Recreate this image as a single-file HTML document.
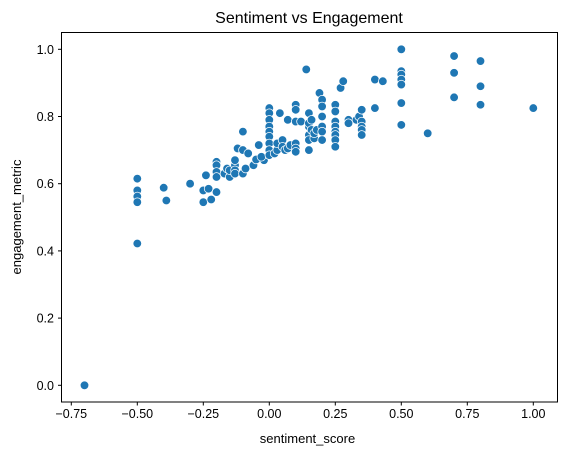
<!DOCTYPE html>
<html><head><meta charset="utf-8"><style>
body{margin:0;background:#fff;width:567px;height:455px;overflow:hidden}
svg{font-family:"Liberation Sans","DejaVu Sans",sans-serif}
</style></head><body>
<svg id="chart" width="567" height="455">
<text x="309" y="23" font-size="16" text-anchor="middle" fill="#000">Sentiment vs Engagement</text>
<text x="307.5" y="443" font-size="13" text-anchor="middle">sentiment_score</text>
<text x="0" y="0" font-size="13" text-anchor="middle" transform="translate(21,217) rotate(-90)">engagement_metric</text>
<g id="ticks"></g>
<g id="points"></g>
<rect x="61.5" y="32.5" width="496" height="369.5" fill="none" stroke="#000" stroke-width="1"/>
</svg>
<script>
const xTicks=[-0.75,-0.5,-0.25,0,0.25,0.5,0.75,1.0];
const xTickLabels=["−0.75","−0.50","−0.25","0.00","0.25","0.50","0.75","1.00"];
const yTicks=[0,0.2,0.4,0.6,0.8,1.0];
const yTickLabels=["0.0","0.2","0.4","0.6","0.8","1.0"];
const sentiment=[-0.7,-0.5,-0.5,-0.5,-0.5,-0.5,-0.4,-0.39,-0.3,-0.25,-0.25,-0.24,-0.23,-0.22,
-0.2,-0.2,-0.2,-0.2,-0.2,-0.17,-0.16,-0.15,-0.15,-0.13,-0.13,-0.13,-0.13,-0.13,
-0.12,-0.1,-0.1,-0.1,-0.09,-0.08,-0.06,-0.05,-0.04,-0.02,-0.03,
0,0,0,0,0,0,0,0,0,
0.02,0.03,0.03,0.04,0.05,0.05,0.06,0.07,0.07,0.08,
0.1,0.1,0.1,0.1,0.1,0.1,0.12,
0.14,0.15,0.15,0.15,0.15,0.15,0.15,0.16,0.16,0.17,0.17,0.18,
0.19,0.2,0.2,0.2,0.2,0.2,0.2,
0.25,0.25,0.25,0.25,0.25,0.25,0.25,0.25,
0.27,0.28,0.3,0.3,0.33,0.34,0.35,0.35,0.35,0.35,0.35,
0.4,0.4,0.43,0.5,0.5,0.5,0.5,0.5,0.5,0.5,
0.6,0.7,0.7,0.7,0.8,0.8,0.8,1.0];
const engagement=[0.0,0.615,0.58,0.562,0.545,0.422,0.588,0.55,0.60,0.58,0.545,0.625,0.585,0.553,
0.665,0.655,0.635,0.62,0.575,0.63,0.645,0.62,0.64,0.665,0.655,0.64,0.63,0.67,
0.705,0.70,0.755,0.63,0.645,0.69,0.655,0.672,0.715,0.67,0.68,
0.825,0.81,0.79,0.77,0.755,0.74,0.72,0.70,0.685,
0.69,0.70,0.72,0.81,0.73,0.71,0.70,0.705,0.79,0.715,
0.835,0.82,0.785,0.72,0.705,0.695,0.785,
0.94,0.81,0.77,0.745,0.73,0.70,0.78,0.79,0.76,0.735,0.75,0.76,
0.87,0.85,0.83,0.80,0.77,0.755,0.73,
0.835,0.815,0.785,0.77,0.755,0.745,0.73,0.71,
0.885,0.905,0.79,0.78,0.79,0.80,0.82,0.785,0.77,0.76,0.745,
0.91,0.825,0.905,1.0,0.935,0.925,0.91,0.895,0.84,0.775,
0.75,0.98,0.93,0.857,0.965,0.89,0.835,0.825];
const NS="http://www.w3.org/2000/svg";
const xs=v=>269.3+v*264;
const ys=v=>385.3-v*336;
const tg=document.getElementById('ticks');
xTicks.forEach((t,i)=>{
  const l=document.createElementNS(NS,'line');
  l.setAttribute('x1',xs(t));l.setAttribute('x2',xs(t));l.setAttribute('y1',402);l.setAttribute('y2',405.5);
  l.setAttribute('stroke','#000');
  
  
  tg.appendChild(l);
  const tx=document.createElementNS(NS,'text');
  tx.setAttribute('x',xs(t));tx.setAttribute('y',418);tx.setAttribute('font-size','12.5');tx.setAttribute('text-anchor','middle');
  tx.textContent=xTickLabels[i];
  
  
  tg.appendChild(tx);
});
yTicks.forEach((t,i)=>{
  const l=document.createElementNS(NS,'line');
  l.setAttribute('x1',58);l.setAttribute('x2',61.5);l.setAttribute('y1',ys(t));l.setAttribute('y2',ys(t));
  l.setAttribute('stroke','#000');
  
  
  tg.appendChild(l);
  const tx=document.createElementNS(NS,'text');
  tx.setAttribute('x',54);tx.setAttribute('y',ys(t)+4.5);tx.setAttribute('font-size','12.5');tx.setAttribute('text-anchor','end');
  tx.textContent=yTickLabels[i];
  
  
  tg.appendChild(tx);
});
const pg=document.getElementById('points');
sentiment.forEach((s,i)=>{
  const c=document.createElementNS(NS,'circle');
  c.setAttribute('cx',xs(s));c.setAttribute('cy',ys(engagement[i]));c.setAttribute('r',4.3);
  c.setAttribute('fill','#1f77b4');c.setAttribute('stroke','#fff');c.setAttribute('stroke-width','0.75');
  
  
  pg.appendChild(c);
});
</script>
</body></html>
